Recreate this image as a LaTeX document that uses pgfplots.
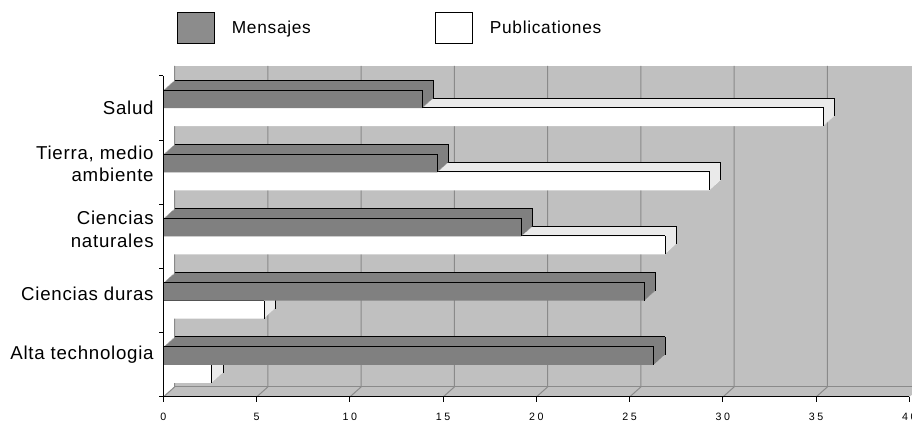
\documentclass[border=0pt]{standalone}
\usepackage{pgfplots}
\pgfplotsset{compat=1.18}
\usepackage{pgfplotstable}
\usepackage{fontspec}
\setmainfont{Liberation Sans}
\newfontfamily\tickfont[LetterSpace=25]{Liberation Sans}
\newfontfamily\labfont[LetterSpace=4]{Liberation Sans}
\newfontfamily\legfont[LetterSpace=4]{Liberation Sans}
\definecolor{wallgray}{HTML}{C0C0C0}
\definecolor{gridgray}{HTML}{8A8A8A}
\definecolor{mengray}{HTML}{808080}
\definecolor{legmen}{HTML}{8C8C8C}
\definecolor{pubside}{HTML}{EAEAEA}
\def\dx{8.4pt}
\def\dy{7.5pt}
\pgfplotstableread{
pos men pub
4.5 13.9 35.4
3.5 14.7 29.3
2.5 19.2 26.9
1.5 25.8 5.4
0.5 26.3 2.6
}\data
\begin{document}
\begin{tikzpicture}
\begin{axis}[
  scale only axis, width=559.5pt, height=240.75pt,
  xmin=0, xmax=40, ymin=0, ymax=5,
  clip=false, axis on top,
  axis x line*=bottom, axis y line*=left,
  axis line style={-, black, line width=0.75pt},
  tick align=outside,
  xtick={0,5,...,40}, xticklabels={0,5,10,15,20,25,30,35,40},
  xticklabel style={font=\tickfont\fontsize{8}{9}\selectfont, yshift=-4.5pt},
  major x tick style={black, line width=0.75pt},
  major tick length=3.75pt,
  ytick={0.654,1.60,2.61,3.63,4.5},
  yticklabels={Alta technologia, Ciencias duras, {Ciencias\\naturales}, {Tierra, medio\\ambiente}, Salud},
  yticklabel style={align=right, font=\labfont\fontsize{14}{17}\selectfont},
  major y tick style={draw=none},
  minor ytick={0,1,2,3,4,5},
  minor y tick style={black, line width=0.75pt},
  minor tick length=3pt,
  legend columns=2,
  legend image code/.code={\draw[#1] (0pt,-11.6pt) rectangle (27.75pt,11.6pt);},
  legend style={at={(0.0184,1.1994)}, anchor=north west, draw=none, fill=none,
    inner sep=0pt, font=\legfont\fontsize{13}{15}\selectfont,
    /tikz/column sep=12.75pt, nodes={inner sep=0pt}},
]
\addlegendimage{fill=legmen, draw=none}
\addlegendentry{\makebox[139.5pt][l]{Mensajes}}
\addlegendimage{fill=white, draw=black, line width=0.75pt}
\addlegendentry{Publicationes}

% back wall, floor and wall grid
\fill[wallgray] ([shift={(\dx,\dy)}]axis cs:0,0) rectangle ([shift={(\dx,\dy)}]axis cs:40,5);
\fill[wallgray] (axis cs:0,0) -- (axis cs:40,0) -- ([shift={(\dx,\dy)}]axis cs:40,0) -- ([shift={(\dx,\dy)}]axis cs:0,0) -- cycle;
\draw[gridgray, line width=0.75pt] ([shift={(\dx,\dy)}]axis cs:0,0) -- ([shift={(\dx,\dy)}]axis cs:40,0);
\pgfplotsinvokeforeach{0,5,...,35}{
  \draw[gridgray, line width=0.75pt] (axis cs:#1,0) -- ([shift={(\dx,\dy)}]axis cs:#1,0) -- ([shift={(\dx,\dy)}]axis cs:#1,5);
}
\coordinate (O) at (rel axis cs:0,0);

% ---- Publicationes ----
\pgfplotsinvokeforeach{11,10,...,1}{
  \addplot[forget plot, xbar, bar width=13.5pt, bar shift=-6.75pt, draw=none, fill=pubside,
    xshift={#1*\dx/11}, yshift={#1*\dy/11}] table[x=pub,y=pos]{\data};
}
\addplot[forget plot, xcomb, mark=none, black, line width=0.75pt, xshift=\dx, yshift=\dy] table[x=pub,y=pos]{\data};
\addplot[forget plot, draw=none, mark=none, xshift=\dx, yshift={\dy-6.75pt},
  error bars/.cd, y dir=both, y fixed=0.1402, error mark=none,
  error bar style={draw=black, line width=0.75pt}] table[x=pub,y=pos]{\data};
\addplot[forget plot, xbar, bar width=13.5pt, bar shift=-6.75pt, draw=none, fill=white] table[x=pub,y=pos]{\data};
\addplot[forget plot, xcomb, mark=none, black, line width=0.75pt, yshift=0.4pt] table[x=pub,y=pos]{\data};
\addplot[forget plot, draw=none, mark=none, yshift=-6.75pt,
  error bars/.cd, y dir=both, y fixed=0.1402, error mark=none,
  error bar style={draw=black, line width=0.75pt}] table[x=pub,y=pos]{\data};

% ---- Mensajes ----
\pgfplotsinvokeforeach{11,10,...,1}{
  \addplot[forget plot, xbar, bar width=13.5pt, bar shift=6.75pt, draw=none, fill=mengray,
    xshift={#1*\dx/11}, yshift={#1*\dy/11}] table[x=men,y=pos]{\data};
}
\addplot[forget plot, xcomb, mark=none, black, line width=0.75pt, xshift=\dx, yshift={\dy+13.5pt}] table[x=men,y=pos]{\data};
\addplot[forget plot, draw=none, mark=none, xshift=\dx, yshift={\dy+6.75pt},
  error bars/.cd, y dir=both, y fixed=0.1402, error mark=none,
  error bar style={draw=black, line width=0.75pt}] table[x=men,y=pos]{\data};
\addplot[forget plot, xbar, bar width=13.5pt, bar shift=6.75pt, draw=none, fill=mengray] table[x=men,y=pos]{\data};
\addplot[forget plot, xcomb, mark=none, black, line width=0.75pt, yshift=13.5pt] table[x=men,y=pos]{\data};
\addplot[forget plot, draw=none, mark=none, yshift=6.75pt,
  error bars/.cd, y dir=both, y fixed=0.1402, error mark=none,
  error bar style={draw=black, line width=0.75pt}] table[x=men,y=pos]{\data};
\end{axis}
\pgfresetboundingbox
\path[use as bounding box] ([shift={(-122.5pt,-19.5pt)}]O) rectangle ([shift={(561.5pt,297.75pt)}]O);
\end{tikzpicture}
\end{document}
